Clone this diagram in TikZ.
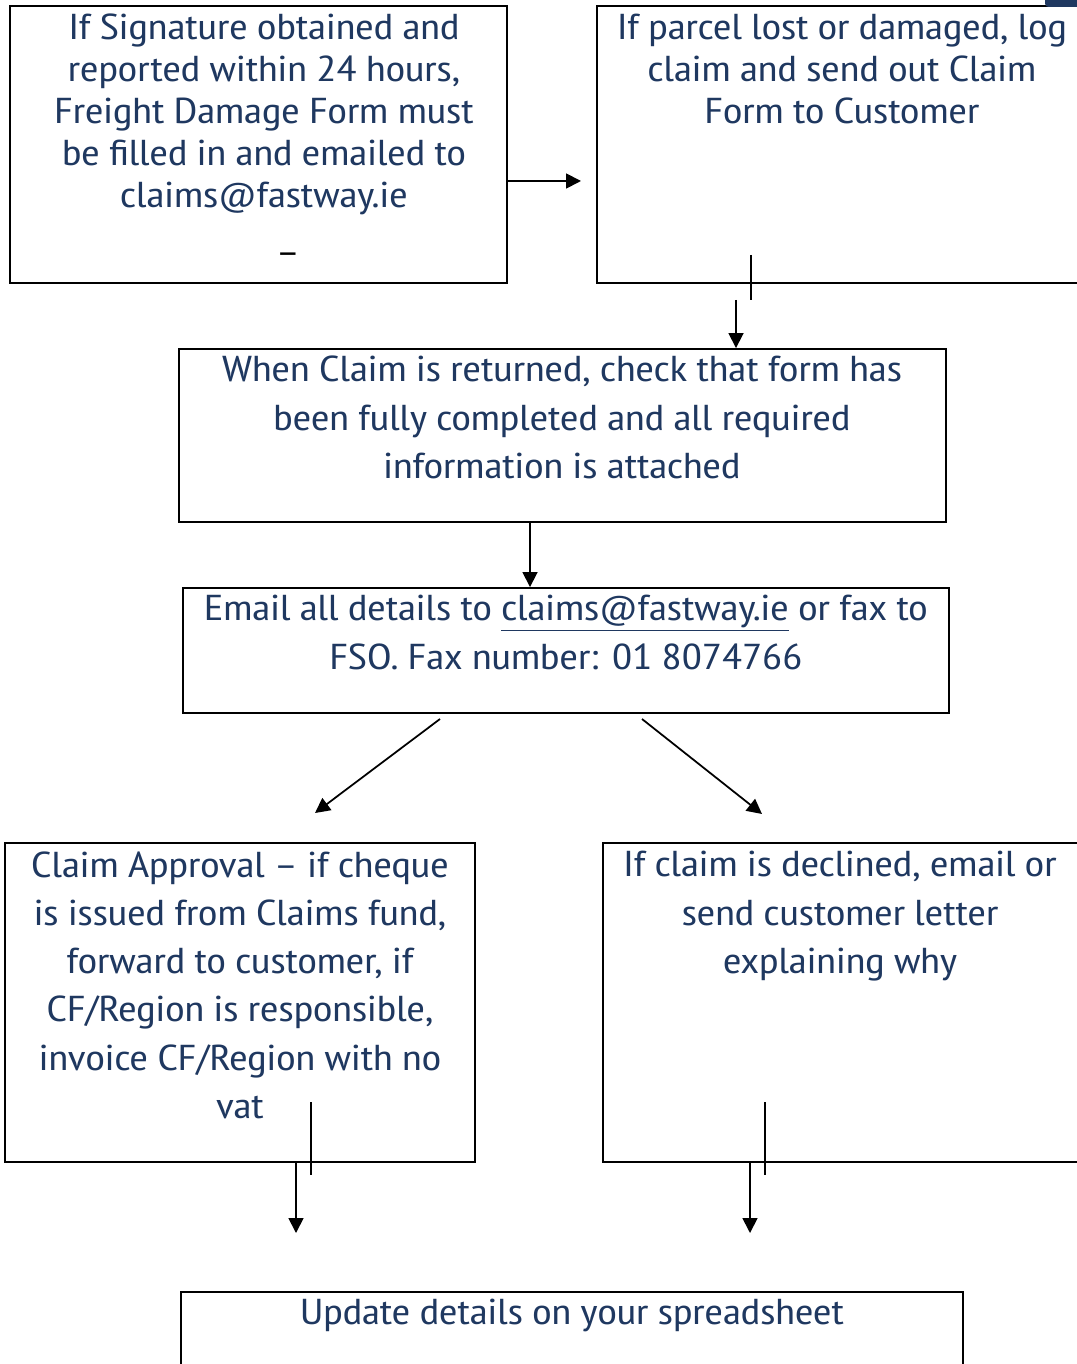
\documentclass[tikz,border=0pt]{standalone}
\usepackage{fontspec}
\setmainfont{PT Sans Narrow}[FakeStretch=1.24]
\usepackage{xcolor}
\usetikzlibrary{arrows.meta,positioning,calc}
\definecolor{claimblue}{RGB}{31,56,96}

\tikzset{
	stepbox/.style={draw,line width=1.1pt,inner sep=0pt},
	boxtext/.style={text=claimblue,align=center,anchor=north,inner sep=0pt,font=\fontsize{20.5}{27.5}\selectfont},
	toptext/.style={boxtext,font=\fontsize{20.5}{23.9}\selectfont},
	flow/.style={line width=1pt,-{Triangle[length=8.5pt,width=8.5pt]}},
	stray/.style={line width=1pt},
}

\begin{document}
\begin{tikzpicture}[x=0.02cm,y=-0.02cm]
	\useasboundingbox (0,0) rectangle (1076,1364);
	% the boxes
	\node[stepbox,minimum width=9.94cm,minimum height=5.54cm] (boxA) at (258.5,144.5) {};
	\node[stepbox,minimum width=9.86cm,minimum height=5.54cm] (boxB) at (843.5,144.5) {};
	\node[stepbox,minimum width=15.34cm,minimum height=3.46cm] (boxC) at (562.5,435.5) {};
	\node[stepbox,minimum width=15.32cm,minimum height=2.5cm] (boxD) at (566,650.5) {};
	\node[stepbox,minimum width=9.4cm,minimum height=6.38cm] (boxE) at (240,1002.5) {};
	\node[stepbox,minimum width=9.74cm,minimum height=6.38cm] (boxF) at (846.5,1002.5) {};
	\node[stepbox,minimum width=15.64cm,minimum height=1.76cm] (boxG) at (572,1336) {};
	% the texts
	\node[toptext] (textA) at (264,14) {If Signature obtained and\\reported within 24 hours,\\Freight Damage Form must\\be filled in and emailed to\\claims@fastway.ie};
	\node[inner sep=0pt,font=\fontsize{20.5}{24}\selectfont] (dashA) at (288,259) {–};
	\node[toptext] (textB) at (842,14) {If parcel lost or damaged, log\\claim and send out Claim\\Form to Customer};
	\node[boxtext] (textC) at (562,356) {When Claim is returned, check that form has\\been fully completed and all required\\information is attached};
	\node[boxtext] (textD) at (566,595) {Email all details to \underline{claims@fastway.ie} or fax to\\FSO. Fax number: 01 8074766};
	\node[boxtext] (textE) at (240,851) {Claim Approval – if cheque\\is issued from Claims fund,\\forward to customer, if\\CF/Region is responsible,\\invoice CF/Region with no\\vat};
	\node[boxtext] (textF) at (840,851) {If claim is declined, email or\\send customer letter\\explaining why};
	\node[boxtext] (textG) at (572,1299) {Update details on your spreadsheet};
	% free ends of the connectors
	\coordinate (abEnd) at (581,181);
	\coordinate (bcTop) at (736,300);
	\coordinate (cdX) at (530,0);
	\coordinate (deStart) at (440,719);
	\coordinate (deEnd) at (315,813);
	\coordinate (dfStart) at (642,719);
	\coordinate (dfEnd) at (762,814);
	\coordinate (egEnd) at (296,1233);
	\coordinate (fgEnd) at (750,1233);
	% connectors
	\draw[flow] (boxA.east |- abEnd) -- (abEnd);
	\draw[flow] (bcTop) -- (bcTop |- boxC.north);
	\draw[flow] (boxC.south -| cdX) -- (boxD.north -| cdX);
	\draw[flow] (deStart) -- (deEnd);
	\draw[flow] (dfStart) -- (dfEnd);
	\draw[flow] (boxE.south -| egEnd) -- (egEnd);
	\draw[flow] (boxF.south -| fgEnd) -- (fgEnd);
	% stray strokes
	\draw[stray] (751,255) -- (751,300);
	\draw[stray] (311,1102) -- (311,1175);
	\draw[stray] (765,1102) -- (765,1175);
	\fill[claimblue,rounded corners=2] (1045,-3) rectangle (1080,7);
\end{tikzpicture}
\end{document}
